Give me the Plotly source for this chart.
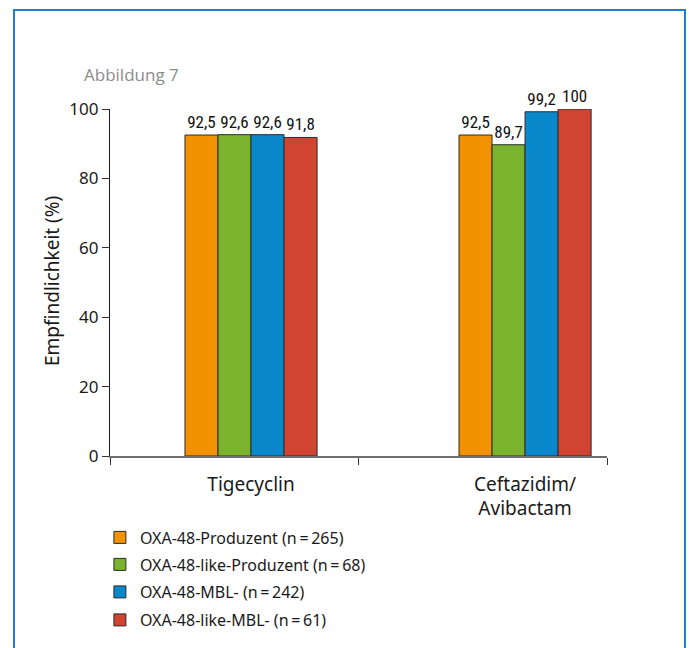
import plotly.graph_objects as go

# Data
categories = ["Tigecyclin", "Ceftazidim/<br>Avibactam"]
series_names = [
    "OXA-48-Produzent (n\u2009=\u2009265)",
    "OXA-48-like-Produzent (n\u2009=\u200968)",
    "OXA-48-MBL- (n\u2009=\u2009242)",
    "OXA-48-like-MBL- (n\u2009=\u200961)",
]
values = [
    [92.5, 92.5],
    [92.6, 89.7],
    [92.6, 99.2],
    [91.8, 100.0],
]
colors = ["#f39200", "#7ab32e", "#0a88cc", "#d04431"]
y_ticks = [0, 20, 40, 60, 80, 100]

x_pos = list(range(len(categories)))

# plot area in pixels: left 110, right 607, top 109, bottom 456
PL, PR, PT, PB = 110, 607, 109, 456
W, H = 689, 648


def px_x(px):
    return (px - PL) / (PR - PL)


def px_y(py):
    return (PB - py) / (PB - PT)


def de_label(v):
    return f"{v:g}".replace(".", ",")


legend_names = ["legend", "legend2", "legend3", "legend4"]
legend_rows_px = [537.5, 564.5, 592, 620]

fig = go.Figure()
for name, vals, col, lg in zip(series_names, values, colors, legend_names):
    fig.add_trace(go.Bar(
        x=x_pos,
        y=vals,
        name=name,
        legend=lg,
        marker=dict(color=col, line=dict(color="#2b2b2b", width=1)),
        text=[de_label(v) for v in vals],
        textposition="outside",
        constraintext="none",
        textfont=dict(family="Liberation Sans Narrow, Roboto Condensed, Arial Narrow, sans-serif",
                      size=17, color="#111"),
        cliponaxis=False,
    ))

axis_font = dict(family="Noto Sans, Open Sans, sans-serif", size=19, color="#1a1a1a")
tick_font = dict(family="Noto Sans, Open Sans, sans-serif", size=17, color="#1a1a1a")
legend_font = dict(family="Noto Sans, Open Sans, sans-serif", size=16, color="#1a1a1a")

legend_layout = {}
for lg, row in zip(legend_names, legend_rows_px):
    legend_layout[lg] = dict(
        xref="container", yref="container",
        x=0.145, y=(H - row) / H, xanchor="left", yanchor="middle",
        font=legend_font,
        bgcolor="rgba(0,0,0,0)",
    )

fig.update_layout(
    width=W,
    height=H,
    barmode="group",
    bargap=0.518,
    bargroupgap=0,
    plot_bgcolor="white",
    paper_bgcolor="white",
    margin=dict(l=PL, r=W - PR, t=PT, b=H - PB, autoexpand=False),
    font=tick_font,
    showlegend=True,
    **legend_layout,
    xaxis=dict(
        range=[-0.5146, 1.299],
        tickmode="array",
        tickvals=x_pos,
        ticktext=categories,
        ticks="",
        showline=True,
        linecolor="#6e6e6e",
        linewidth=1.5,
        showgrid=False,
        zeroline=False,
        tickfont=axis_font,
        ticklabelstandoff=10,
        automargin=False,
        minor=dict(
            tickmode="array",
            tickvals=[-0.5146, 0.3905, 1.299],
            ticks="outside",
            ticklen=7,
            tickcolor="#333",
            tickwidth=1.2,
            showgrid=False,
        ),
    ),
    yaxis=dict(
        range=[0, 100],
        tickmode="array",
        tickvals=y_ticks,
        ticks="outside",
        ticklen=7,
        tickcolor="#333",
        tickwidth=1.2,
        showline=True,
        linecolor="#1a1a1a",
        linewidth=1.2,
        showgrid=False,
        zeroline=False,
        automargin=False,
        tickfont=tick_font,
    ),
    annotations=[
        dict(
            text="Abbildung 7",
            xref="paper", yref="paper",
            x=px_x(82), y=px_y(74),
            xanchor="left", yanchor="middle",
            showarrow=False,
            font=dict(family="Open Sans, Noto Sans, sans-serif", size=17, color="#8c8c8c"),
        ),
        dict(
            text="Empfindlichkeit (%)",
            xref="paper", yref="paper",
            x=px_x(51.5), y=px_y(281.5),
            xanchor="center", yanchor="middle",
            textangle=-90,
            showarrow=False,
            font=axis_font,
        ),
    ],
    shapes=[
        dict(
            type="rect",
            xref="paper", yref="paper",
            x0=px_x(14), x1=px_x(685),
            y0=px_y(700), y1=px_y(10),
            line=dict(color="#1f7fd0", width=2),
            fillcolor="rgba(0,0,0,0)",
            layer="below",
        )
    ],
)

fig.write_html("out.html")
